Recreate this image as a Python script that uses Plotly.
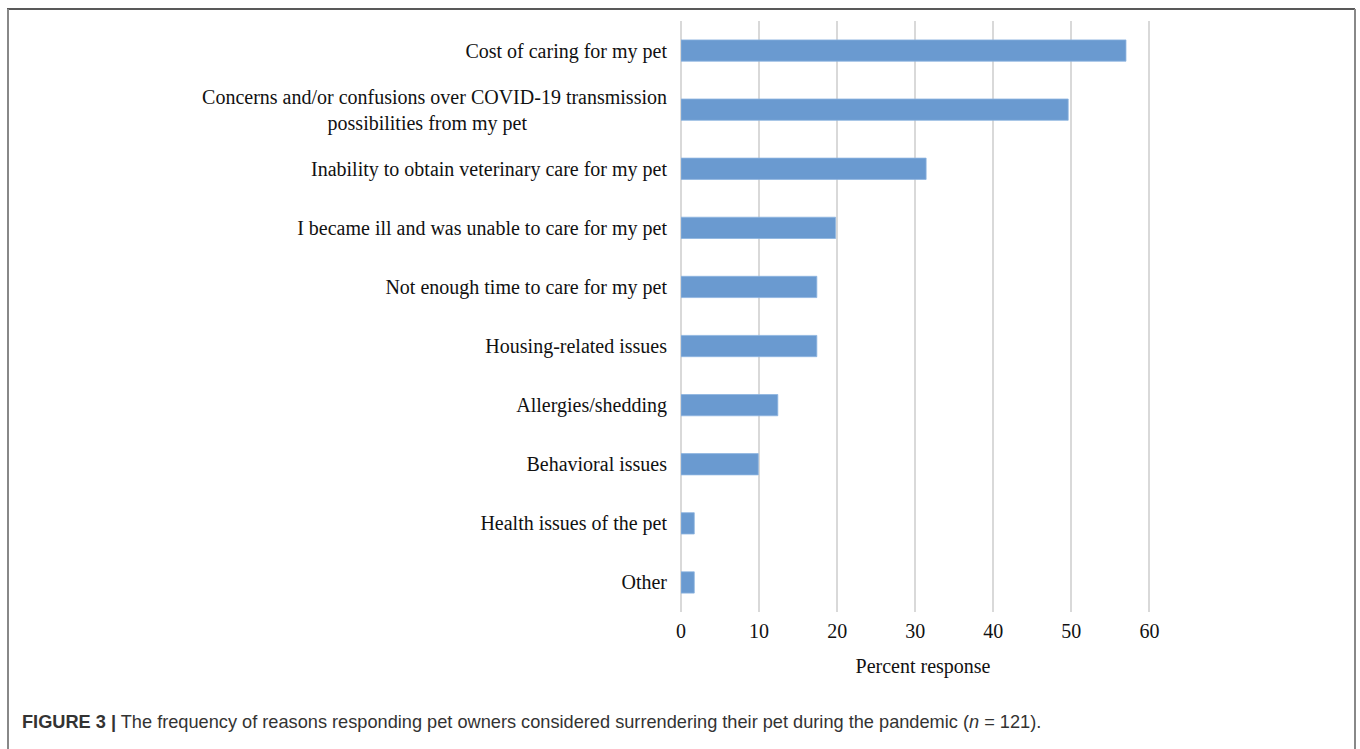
import plotly.graph_objects as go

categories = [
    "Cost of caring for my pet",
    "Concerns and/or confusions over COVID-19 transmission<br>possibilities from my pet" + "\u00a0" * 28,
    "Inability to obtain veterinary care for my pet",
    "I became ill and was unable to care for my pet",
    "Not enough time to care for my pet",
    "Housing-related issues",
    "Allergies/shedding",
    "Behavioral issues",
    "Health issues of the pet",
    "Other",
]
percent = [57.0, 49.6, 31.4, 19.8, 17.4, 17.4, 12.4, 9.9, 1.7, 1.7]
x_ticks = [0, 10, 20, 30, 40, 50, 60]

W, H = 1360, 749
L, R, T, B = 681, 1165, 21, 612  # plot area pixel bounds


def px_x(p):
    return (p - L) / (R - L)


def px_y(p):
    return (B - p) / (B - T)


fig = go.Figure(
    go.Bar(
        x=percent,
        y=categories,
        orientation="h",
        marker=dict(color="#6A9AD0", line=dict(color="#8DB4E0", width=0.8)),
        width=0.36,
        hoverinfo="x+y",
    )
)

serif = "Liberation Serif, Times New Roman, serif"
FS = 20

fig.update_layout(
    width=W,
    height=H,
    margin=dict(l=L, r=W - R, t=T, b=H - B),
    paper_bgcolor="white",
    plot_bgcolor="white",
    showlegend=False,
    font=dict(family=serif, size=FS, color="#111111"),
    xaxis=dict(
        range=[0, 62],
        tickvals=x_ticks,
        showgrid=True,
        gridcolor="#D9D9D9",
        gridwidth=1.5,
        zeroline=True,
        zerolinecolor="#D9D9D9",
        zerolinewidth=1.5,
        showline=False,
        ticks="",
        ticklabelstandoff=5,
        tickfont=dict(family=serif, size=FS, color="#111111"),
        title=dict(text="Percent response", font=dict(family=serif, size=FS, color="#111111"), standoff=17),
        fixedrange=True,
    ),
    yaxis=dict(
        categoryorder="array",
        categoryarray=categories[::-1],
        autorange=False,
        range=[-0.5, len(categories) - 0.5],
        showgrid=False,
        zeroline=False,
        showline=False,
        ticks="",
        ticklabelstandoff=13,
        tickfont=dict(family=serif, size=FS, color="#111111"),
        fixedrange=True,
    ),
)

# figure frame
fig.add_shape(type="line", xref="paper", yref="paper",
              x0=px_x(7), x1=px_x(1355), y0=px_y(9), y1=px_y(9),
              line=dict(color="#222222", width=1.5))
fig.add_shape(type="line", xref="paper", yref="paper",
              x0=px_x(8), x1=px_x(8), y0=px_y(9), y1=px_y(752),
              line=dict(color="#888888", width=2))
fig.add_shape(type="line", xref="paper", yref="paper",
              x0=px_x(1355), x1=px_x(1355), y0=px_y(9), y1=px_y(752),
              line=dict(color="#888888", width=2))

fig.add_annotation(
    xref="paper", yref="paper",
    x=px_x(20), y=px_y(722),
    xanchor="left", yanchor="middle",
    showarrow=False,
    align="left",
    text="<b>FIGURE 3 |</b> The frequency of reasons responding pet owners considered surrendering their pet during the pandemic (<i>n</i> = 121).",
    font=dict(family="Liberation Sans, Arial, sans-serif", size=18.2, color="#333333"),
)

fig.write_html(
    "out.html",
    config={"displayModeBar": False},
    post_script="document.body.style.margin='0';document.body.style.overflow='hidden';",
)
